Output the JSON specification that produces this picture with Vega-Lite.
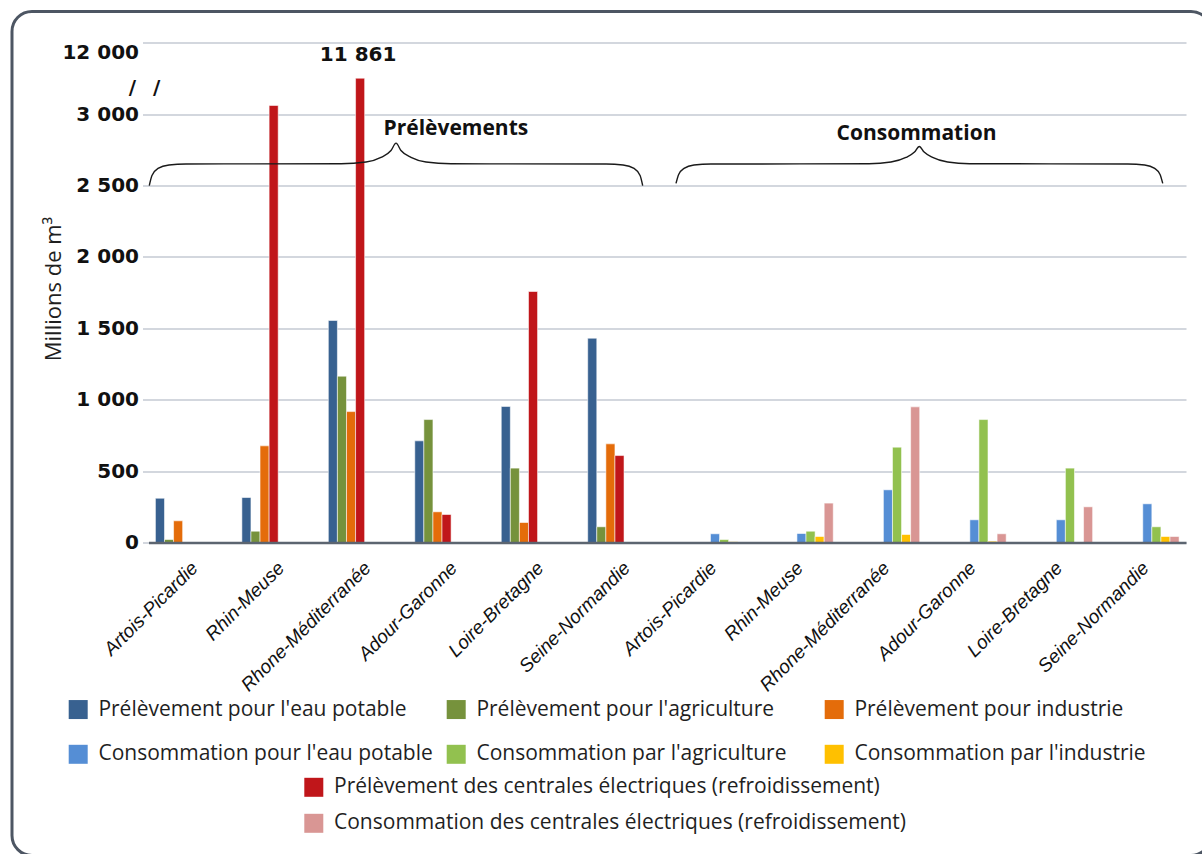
{
  "$schema": "https://vega.github.io/schema/vega-lite/v6.json",
  "width": 1037.5,
  "height": 500,
  "autosize": {"type": "pad"},
  "padding": {"left": 9.5, "top": 9.5, "right": 0, "bottom": 0},
  "background": "white",
  "config": {
    "view": {"stroke": null},
    "font": "Open Sans",
    "locale": {"number": {"decimal": ",", "thousands": " ", "grouping": [3], "currency": ["", " €"]}}
  },
  "datasets": {
    "eau": [
      {"cle": "P:Artois-Picardie", "serie": "Prélèvement pour l'eau potable", "v": 310},
      {"cle": "P:Artois-Picardie", "serie": "Prélèvement pour l'agriculture", "v": 21},
      {"cle": "P:Artois-Picardie", "serie": "Prélèvement pour industrie", "v": 152},
      {"cle": "P:Rhin-Meuse", "serie": "Prélèvement pour l'eau potable", "v": 315},
      {"cle": "P:Rhin-Meuse", "serie": "Prélèvement pour l'agriculture", "v": 79},
      {"cle": "P:Rhin-Meuse", "serie": "Prélèvement pour industrie", "v": 677},
      {"cle": "P:Rhin-Meuse", "serie": "Prélèvement des centrales électriques (refroidissement)", "v": 3061},
      {"cle": "P:Rhone-Méditerranée", "serie": "Prélèvement pour l'eau potable", "v": 1555},
      {"cle": "P:Rhone-Méditerranée", "serie": "Prélèvement pour l'agriculture", "v": 1165},
      {"cle": "P:Rhone-Méditerranée", "serie": "Prélèvement pour industrie", "v": 917},
      {"cle": "P:Rhone-Méditerranée", "serie": "Prélèvement des centrales électriques (refroidissement)", "v": 11861},
      {"cle": "P:Adour-Garonne", "serie": "Prélèvement pour l'eau potable", "v": 712},
      {"cle": "P:Adour-Garonne", "serie": "Prélèvement pour l'agriculture", "v": 861},
      {"cle": "P:Adour-Garonne", "serie": "Prélèvement pour industrie", "v": 215},
      {"cle": "P:Adour-Garonne", "serie": "Prélèvement des centrales électriques (refroidissement)", "v": 196},
      {"cle": "P:Loire-Bretagne", "serie": "Prélèvement pour l'eau potable", "v": 953},
      {"cle": "P:Loire-Bretagne", "serie": "Prélèvement pour l'agriculture", "v": 521},
      {"cle": "P:Loire-Bretagne", "serie": "Prélèvement pour industrie", "v": 140},
      {"cle": "P:Loire-Bretagne", "serie": "Prélèvement des centrales électriques (refroidissement)", "v": 1758},
      {"cle": "P:Seine-Normandie", "serie": "Prélèvement pour l'eau potable", "v": 1431},
      {"cle": "P:Seine-Normandie", "serie": "Prélèvement pour l'agriculture", "v": 110},
      {"cle": "P:Seine-Normandie", "serie": "Prélèvement pour industrie", "v": 691},
      {"cle": "P:Seine-Normandie", "serie": "Prélèvement des centrales électriques (refroidissement)", "v": 609},
      {"cle": "C:Artois-Picardie", "serie": "Consommation pour l'eau potable", "v": 61},
      {"cle": "C:Artois-Picardie", "serie": "Consommation par l'agriculture", "v": 21},
      {"cle": "C:Artois-Picardie", "serie": "Consommation par l'industrie", "v": 5},
      {"cle": "C:Rhin-Meuse", "serie": "Consommation pour l'eau potable", "v": 63},
      {"cle": "C:Rhin-Meuse", "serie": "Consommation par l'agriculture", "v": 79},
      {"cle": "C:Rhin-Meuse", "serie": "Consommation par l'industrie", "v": 42},
      {"cle": "C:Rhin-Meuse", "serie": "Consommation des centrales électriques (refroidissement)", "v": 276},
      {"cle": "C:Rhone-Méditerranée", "serie": "Consommation pour l'eau potable", "v": 369},
      {"cle": "C:Rhone-Méditerranée", "serie": "Consommation par l'agriculture", "v": 668},
      {"cle": "C:Rhone-Méditerranée", "serie": "Consommation par l'industrie", "v": 56},
      {"cle": "C:Rhone-Méditerranée", "serie": "Consommation des centrales électriques (refroidissement)", "v": 950},
      {"cle": "C:Adour-Garonne", "serie": "Consommation pour l'eau potable", "v": 159},
      {"cle": "C:Adour-Garonne", "serie": "Consommation par l'agriculture", "v": 861},
      {"cle": "C:Adour-Garonne", "serie": "Consommation par l'industrie", "v": 9},
      {"cle": "C:Adour-Garonne", "serie": "Consommation des centrales électriques (refroidissement)", "v": 61},
      {"cle": "C:Loire-Bretagne", "serie": "Consommation pour l'eau potable", "v": 159},
      {"cle": "C:Loire-Bretagne", "serie": "Consommation par l'agriculture", "v": 521},
      {"cle": "C:Loire-Bretagne", "serie": "Consommation par l'industrie", "v": 2},
      {"cle": "C:Loire-Bretagne", "serie": "Consommation des centrales électriques (refroidissement)", "v": 250},
      {"cle": "C:Seine-Normandie", "serie": "Consommation pour l'eau potable", "v": 271},
      {"cle": "C:Seine-Normandie", "serie": "Consommation par l'agriculture", "v": 110},
      {"cle": "C:Seine-Normandie", "serie": "Consommation par l'industrie", "v": 42},
      {"cle": "C:Seine-Normandie", "serie": "Consommation des centrales électriques (refroidissement)", "v": 42}
    ],
    "accolades": [
      {"accolade": "P", "u": 0.009, "v": 2500},
      {"accolade": "P", "u": 0.040, "v": 2571},
      {"accolade": "P", "u": 0.110, "v": 2620},
      {"accolade": "P", "u": 0.237, "v": 2644},
      {"accolade": "P", "u": 0.434, "v": 2651},
      {"accolade": "P", "u": 2.227, "v": 2653},
      {"accolade": "P", "u": 2.516, "v": 2665},
      {"accolade": "P", "u": 2.689, "v": 2697},
      {"accolade": "P", "u": 2.805, "v": 2746},
      {"accolade": "P", "u": 2.863, "v": 2797},
      {"accolade": "P", "u": 2.920, "v": 2746},
      {"accolade": "P", "u": 3.036, "v": 2697},
      {"accolade": "P", "u": 3.210, "v": 2665},
      {"accolade": "P", "u": 3.499, "v": 2653},
      {"accolade": "P", "u": 5.292, "v": 2651},
      {"accolade": "P", "u": 5.489, "v": 2644},
      {"accolade": "P", "u": 5.616, "v": 2620},
      {"accolade": "P", "u": 5.686, "v": 2571},
      {"accolade": "P", "u": 5.716, "v": 2500},
      {"accolade": "C", "u": 6.101, "v": 2515},
      {"accolade": "C", "u": 6.132, "v": 2578},
      {"accolade": "C", "u": 6.194, "v": 2620},
      {"accolade": "C", "u": 6.309, "v": 2644},
      {"accolade": "C", "u": 6.506, "v": 2651},
      {"accolade": "C", "u": 8.333, "v": 2653},
      {"accolade": "C", "u": 8.588, "v": 2665},
      {"accolade": "C", "u": 8.761, "v": 2697},
      {"accolade": "C", "u": 8.860, "v": 2735},
      {"accolade": "C", "u": 8.915, "v": 2774},
      {"accolade": "C", "u": 8.971, "v": 2735},
      {"accolade": "C", "u": 9.069, "v": 2697},
      {"accolade": "C", "u": 9.243, "v": 2665},
      {"accolade": "C", "u": 9.497, "v": 2653},
      {"accolade": "C", "u": 11.326, "v": 2651},
      {"accolade": "C", "u": 11.522, "v": 2644},
      {"accolade": "C", "u": 11.638, "v": 2620},
      {"accolade": "C", "u": 11.700, "v": 2578},
      {"accolade": "C", "u": 11.731, "v": 2515}
    ]
  },
  "layer": [
    {
      "data": {"name": "eau"},
      "encoding": {
        "x": {
          "field": "cle",
          "type": "nominal",
          "scale": {
            "domain": [
              "P:Artois-Picardie", "P:Rhin-Meuse", "P:Rhone-Méditerranée", "P:Adour-Garonne", "P:Loire-Bretagne", "P:Seine-Normandie",
              "C:Artois-Picardie", "C:Rhin-Meuse", "C:Rhone-Méditerranée", "C:Adour-Garonne", "C:Loire-Bretagne", "C:Seine-Normandie"
            ],
            "paddingInner": 0.16,
            "paddingOuter": 0.08
          },
          "axis": {
            "title": null,
            "labelExpr": "slice(datum.label, 2)",
            "labelAngle": -45,
            "labelAlign": "right",
            "labelBaseline": "middle",
            "labelFont": "Liberation Sans",
            "labelFontStyle": "italic",
            "labelFontSize": 19,
            "labelColor": "#111111",
            "labelPadding": 22,
            "labelOffset": 3,
            "labelOverlap": false,
            "labelBound": false,
            "ticks": false,
            "domain": true,
            "domainColor": "#5c6570",
            "domainWidth": 2.5,
            "grid": false,
            "zindex": 1
          }
        },
        "xOffset": {
          "field": "serie",
          "type": "nominal",
          "scale": {
            "domain": [
              "Prélèvement pour l'eau potable",
              "Prélèvement pour l'agriculture",
              "Prélèvement pour industrie",
              "Prélèvement des centrales électriques (refroidissement)",
              "Consommation pour l'eau potable",
              "Consommation par l'agriculture",
              "Consommation par l'industrie",
              "Consommation des centrales électriques (refroidissement)"
            ],
            "paddingInner": 0,
            "paddingOuter": 0
          }
        },
        "y": {
          "field": "v",
          "type": "quantitative",
          "scale": {
            "domain": [0, 3250, 11861, 12000],
            "range": [500, 36, 35.7, 0],
            "nice": false,
            "zero": false
          },
          "axis": {
            "title": "Millions de m³",
            "titleFont": "Open Sans",
            "titleFontSize": 22,
            "titleFontWeight": "normal",
            "titleColor": "#1f1f1f",
            "titleAngle": 270,
            "titleAlign": "center",
            "titleBaseline": "middle",
            "titleX": -95.5,
            "titleY": 246,
            "values": [0, 500, 1000, 1500, 2000, 2500, 3000, 12000],
            "labelExpr": "format(datum.value, ',')",
            "labelFont": "DejaVu Sans",
            "labelFontWeight": "bold",
            "labelFontSize": 20,
            "labelColor": "#111111",
            "labelPadding": 4,
            "labelBaseline": {"condition": {"test": "datum.value === 12000", "value": "top"}, "value": "middle"},
            "domain": false,
            "ticks": true,
            "tickSize": 6,
            "tickWidth": 1.5,
            "tickColor": "#c5cad3",
            "grid": true,
            "gridColor": "#c5cad3",
            "gridWidth": 1.5,
            "zindex": 0
          }
        }
      },
      "layer": [
        {
          "transform": [{"filter": {"field": "serie", "oneOf": [
            "Prélèvement pour l'eau potable", "Prélèvement pour l'agriculture", "Prélèvement pour industrie",
            "Consommation pour l'eau potable", "Consommation par l'agriculture", "Consommation par l'industrie"
          ]}}],
          "mark": {"type": "bar", "stroke": "white", "strokeWidth": 1, "strokeOpacity": 0.55},
          "encoding": {
            "color": {
              "field": "serie",
              "type": "nominal",
              "scale": {
                "domain": [
                  "Prélèvement pour l'eau potable", "Prélèvement pour l'agriculture", "Prélèvement pour industrie",
                  "Consommation pour l'eau potable", "Consommation par l'agriculture", "Consommation par l'industrie"
                ],
                "range": ["#386190", "#76923c", "#e46c0a", "#558ed5", "#92c14f", "#ffc000"]
              },
              "legend": {
                "title": null,
                "orient": "none",
                "legendX": -80.8,
                "legendY": 656.3,
                "direction": "horizontal",
                "columns": 3,
                "gridAlign": "all",
                "columnPadding": 12,
                "rowPadding": 23,
                "padding": 0,
                "symbolType": "square",
                "symbolSize": 361,
                "symbolStrokeWidth": 0,
                "labelFont": "Open Sans",
                "labelFontSize": 21,
                "labelColor": "#1f1f1f",
                "labelOffset": 9.7,
                "labelLimit": 0
              }
            }
          }
        },
        {
          "transform": [{"filter": {"field": "serie", "oneOf": [
            "Prélèvement des centrales électriques (refroidissement)",
            "Consommation des centrales électriques (refroidissement)"
          ]}}],
          "mark": {"type": "bar", "stroke": "white", "strokeWidth": 1, "strokeOpacity": 0.55},
          "encoding": {
            "fill": {
              "field": "serie",
              "type": "nominal",
              "scale": {
                "domain": [
                  "Prélèvement des centrales électriques (refroidissement)",
                  "Consommation des centrales électriques (refroidissement)"
                ],
                "range": ["#c0161a", "#d99694"]
              },
              "legend": {
                "title": null,
                "orient": "none",
                "legendX": 154.8,
                "legendY": 734.3,
                "direction": "vertical",
                "columns": 1,
                "rowPadding": 14,
                "padding": 0,
                "symbolType": "square",
                "symbolSize": 361,
                "symbolStrokeWidth": 0,
                "labelFont": "Open Sans",
                "labelFontSize": 21,
                "labelColor": "#1f1f1f",
                "labelOffset": 9.7,
                "labelLimit": 0
              }
            }
          }
        },
        {
          "transform": [{"filter": "datum.v > 10000"}],
          "mark": {"type": "text", "font": "DejaVu Sans", "fontWeight": "bold", "fontSize": 20, "color": "#111111", "align": "center", "baseline": "middle", "dy": -23.5, "dx": -2},
          "encoding": {
            "text": {"field": "v", "type": "quantitative", "format": ","}
          }
        }
      ]
    },
    {
      "data": {"name": "accolades"},
      "mark": {"type": "line", "interpolate": "monotone", "color": "#1a1a1a", "strokeWidth": 1.4},
      "encoding": {
        "x": {"field": "u", "type": "quantitative", "scale": {"domain": [0, 12], "nice": false, "zero": false}, "axis": null},
        "y": {"field": "v", "type": "quantitative"},
        "detail": {"field": "accolade", "type": "nominal"}
      }
    },
    {
      "data": {"values": [{}]},
      "mark": {"type": "text", "font": "Open Sans", "fontWeight": 700, "fontSize": 21, "color": "#111111", "align": "center", "baseline": "alphabetic"},
      "encoding": {
        "x": {"datum": 3.555, "type": "quantitative", "scale": {"domain": [0, 12], "nice": false, "zero": false}, "axis": null},
        "y": {"datum": 2851, "type": "quantitative"},
        "text": {"value": "Prélèvements"}
      }
    },
    {
      "data": {"values": [{}]},
      "mark": {"type": "text", "font": "Open Sans", "fontWeight": 700, "fontSize": 21, "color": "#111111", "align": "center", "baseline": "alphabetic"},
      "encoding": {
        "x": {"datum": 8.883, "type": "quantitative", "scale": {"domain": [0, 12], "nice": false, "zero": false}, "axis": null},
        "y": {"datum": 2816, "type": "quantitative"},
        "text": {"value": "Consommation"}
      }
    },
    {
      "data": {"values": [{}]},
      "mark": {"type": "text", "font": "DejaVu Sans", "fontWeight": "bold", "fontSize": 20, "color": "#111111", "align": "center", "baseline": "middle"},
      "encoding": {
        "x": {"datum": -0.046, "type": "quantitative", "scale": {"domain": [0, 12], "nice": false, "zero": false}, "axis": null},
        "y": {"datum": 3184, "type": "quantitative"},
        "text": {"value": "/\u2002 /"}
      }
    },
    {
      "data": {"values": [{}]},
      "mark": {"type": "rect", "filled": false, "stroke": "#4d5663", "strokeWidth": 3, "cornerRadius": 20},
      "encoding": {
        "x": {"datum": -1.5788, "type": "quantitative", "scale": {"domain": [0, 12], "nice": false, "zero": false}, "axis": null},
        "x2": {"datum": 12.289},
        "y": {"datum": 12121, "type": "quantitative"},
        "y2": {"datum": -2192}
      }
    }
  ],
  "resolve": {"scale": {"x": "independent"}, "axis": {"x": "independent"}}
}
